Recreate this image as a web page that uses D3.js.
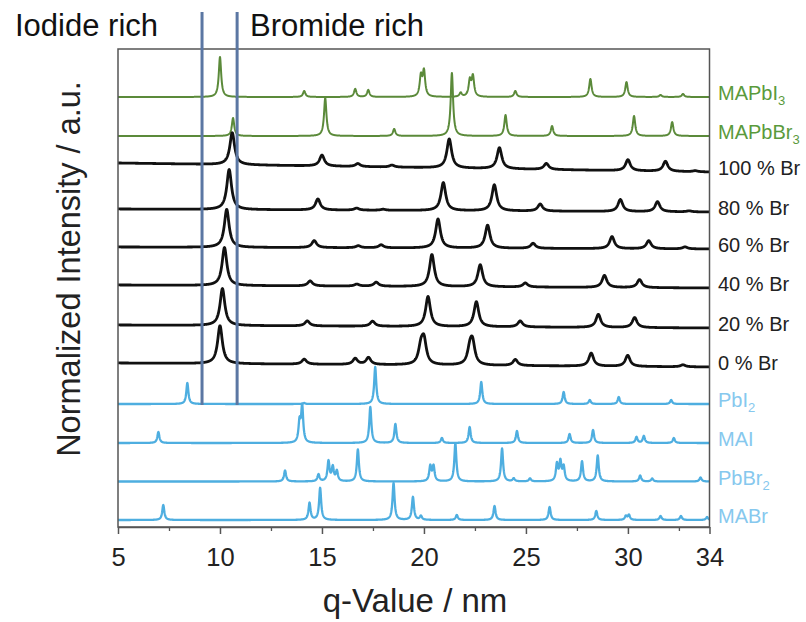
<!DOCTYPE html>
<html><head><meta charset="utf-8">
<script src="https://cdn.jsdelivr.net/npm/d3@7"></script>
<style>body{margin:0;background:#fff} text{font-family:"Liberation Sans",Arial,sans-serif}</style>
</head><body><svg id="c" width="806" height="622"></svg>
<script>
// ---------------- data ----------------
const xTicks = [5, 10, 15, 20, 25, 30, 34];
const xMinorTicks = [7.5, 12.5, 17.5, 22.5, 27.5, 32.5];
const guideLines = [9.12, 10.84];
const regionLabels = ["Iodide rich", "Bromide rich"];

const seriesNames = ["MAPbI3", "MAPbBr3", "100 % Br", "80 % Br", "60 % Br", "40 % Br",
                     "20 % Br", "0 % Br", "PbI2", "MAI", "PbBr2", "MABr"];
const seriesGroup = ["green", "green", "black", "black", "black", "black",
                     "black", "black", "blue", "blue", "blue", "blue"];
// stacking offsets (a.u.) at q = 5 and q = 34
const offsetStart = [430, 391, 364, 318, 280, 242, 202, 164, 123, 84, 45.5, 7];
const offsetEnd   = [430, 391, 355, 315, 278, 239, 199, 160, 123, 84, 45.5, 7];

// peaks: [q, intensity]
const peaksMAPbI3 = [[10.0, 40], [14.13, 6], [16.63, 8], [17.27, 7], [19.85, 20], [20.0, 25],
  [21.8, 4], [22.25, 16], [22.4, 20], [24.48, 6], [28.16, 18], [29.93, 15], [31.6, 2], [32.7, 3]];
const peaksMAPbBr3 = [[10.64, 18], [15.16, 38], [18.54, 7], [21.37, 63], [24.0, 21], [26.28, 10],
  [30.3, 20], [32.17, 14]];
const peaksBr100 = [[10.6, 32], [15.0, 11], [16.76, 3], [18.43, 2], [21.24, 29], [23.7, 21],
  [26.0, 6], [30.0, 11], [31.84, 10], [33.3, 1]];
const peaksBr80 = [[10.45, 40], [14.8, 11], [16.7, 2], [18.0, 1], [20.95, 28], [23.45, 26],
  [25.7, 7], [29.63, 12], [31.45, 10], [33.0, 1]];
const peaksBr60 = [[10.33, 38], [14.62, 7], [16.78, 2], [17.9, 3], [20.69, 29], [23.12, 23],
  [25.35, 5], [29.22, 12], [31.02, 8], [32.8, 2]];
const peaksBr40 = [[10.22, 38], [14.42, 5], [16.71, 2], [17.66, 4], [20.39, 32], [22.76, 22],
  [24.97, 4], [28.85, 12], [30.57, 8]];
const peaksBr20 = [[10.12, 37], [14.28, 5], [17.48, 5], [20.2, 30], [22.57, 25], [24.72, 6],
  [28.55, 13], [30.33, 10]];
const peaksBr0 = [[10.0, 38], [14.13, 5], [16.63, 6], [17.28, 7], [19.85, 16], [20.0, 23],
  [22.25, 14], [22.38, 21], [24.48, 6], [28.2, 13], [29.99, 11], [32.7, 2]];
const peaksPbI2 = [[8.4, 21], [14.13, 1], [17.61, 37], [22.81, 22], [26.85, 12], [28.13, 4],
  [29.55, 7], [32.12, 4]];
const peaksMAI = [[6.98, 11], [13.9, 20], [14.03, 36], [17.37, 36], [18.6, 19], [20.88, 5],
  [22.24, 16], [24.56, 12], [27.14, 9], [28.29, 13], [30.42, 6], [30.78, 7], [32.25, 5]];
const peaksPbBr2 = [[13.19, 11], [14.83, 7], [15.32, 20], [15.53, 14], [15.73, 10], [16.76, 32],
  [20.31, 15], [20.47, 15], [21.54, 38], [23.83, 33], [24.4, 3], [25.2, 3], [26.52, 17],
  [26.69, 19], [26.85, 14], [27.75, 20], [28.52, 26], [30.6, 6], [31.19, 3], [33.56, 4]];
const peaksMABr = [[7.22, 15], [14.39, 17], [14.91, 32], [18.51, 37], [19.46, 23], [19.85, 4],
  [21.61, 5], [23.46, 14], [26.16, 13], [28.45, 9], [29.9, 4], [30.05, 5], [31.6, 4],
  [32.6, 4], [33.88, 3]];
const seriesPeaks = [peaksMAPbI3, peaksMAPbBr3, peaksBr100, peaksBr80, peaksBr60, peaksBr40,
  peaksBr20, peaksBr0, peaksPbI2, peaksMAI, peaksPbBr2, peaksMABr];

// ---------------- styles ----------------
const lineColor = {green: "#5b8a3a", black: "#111111", blue: "#4eaee0"};
const labelColor = {green: "#5a9a3c", black: "#222222", blue: "#86c8ee"};
const lineWidth = {green: 2, black: 2.8, blue: 2.3};
const peakHWHM = {green: 0.07, black: 0.14, blue: 0.06};

// ---------------- chart ----------------
const svg = d3.select("#c");
const L = 118, R = 709.5, T = 49, B = 527;
const x = d3.scaleLinear().domain([5, 34]).range([L, R]);
const y = d3.scaleLinear().domain([0, 480]).range([B, B - 480]);

svg.append("defs").append("clipPath").attr("id", "clip")
  .append("rect").attr("x", L).attr("y", T).attr("width", R - L).attr("height", B - T);

function profile(peaks, w, s, e) {
  let grid = d3.range(5, 34.0001, 0.01).concat(peaks.map(p => p[0]));
  grid.sort((a, b) => a - b);
  return grid.map(q => {
    let v = s + (e - s) * (q - 5) / 29;
    for (const [q0, h] of peaks) v += h * w * w / ((q - q0) * (q - q0) + w * w);
    return [q, v];
  });
}

const line = d3.line().x(d => x(d[0])).y(d => y(d[1]));
const gLines = svg.append("g").attr("clip-path", "url(#clip)");
seriesNames.forEach((name, i) => {
  const g = seriesGroup[i];
  gLines.append("path")
    .attr("d", line(profile(seriesPeaks[i], peakHWHM[g], offsetStart[i], offsetEnd[i])))
    .attr("fill", "none").attr("stroke", lineColor[g]).attr("stroke-width", lineWidth[g])
    .attr("stroke-linejoin", "round");
});

// frame
svg.append("rect").attr("x", L).attr("y", T).attr("width", R - L).attr("height", B - T)
  .attr("fill", "none").attr("stroke", "#555").attr("stroke-width", 1.5);

// x axis
const ax = svg.append("g").attr("transform", `translate(0,${B})`)
  .call(d3.axisBottom(x).tickValues(xTicks).tickSize(7).tickSizeOuter(0).tickPadding(14)
    .tickFormat(d3.format("d")));
ax.select(".domain").attr("stroke", "#555").attr("stroke-width", 1.5);
ax.selectAll(".tick line").attr("stroke", "#555").attr("stroke-width", 1.5);
ax.selectAll(".tick text").attr("font-size", 25.5).attr("fill", "#222")
  .attr("font-family", "'Liberation Sans', Arial, sans-serif");
const axm = svg.append("g").attr("transform", `translate(0,${B})`)
  .call(d3.axisBottom(x).tickValues(xMinorTicks).tickSize(4).tickFormat(""));
axm.select(".domain").remove();
axm.selectAll(".tick line").attr("stroke", "#555").attr("stroke-width", 1.3);

// axis titles
svg.append("text").attr("x", 415).attr("y", 612).attr("text-anchor", "middle")
  .attr("font-size", 33).attr("fill", "#222").text("q-Value / nm");
svg.append("text").attr("transform", "translate(80,269) rotate(-90)").attr("text-anchor", "middle")
  .attr("font-size", 32.5).attr("fill", "#222").text("Normalized Intensity / a.u.");

// series labels
seriesNames.forEach((name, i) => {
  const g = seriesGroup[i];
  const m = name.match(/^([A-Za-z]+?)(\d)$/);
  const t = svg.append("text").attr("x", 718).attr("y", y(offsetEnd[i]) + 3)
    .attr("font-size", 20).attr("fill", labelColor[g]);
  if (m) {
    t.append("tspan").text(m[1]);
    t.append("tspan").attr("font-size", 13).attr("dy", 5).text(m[2]);
  } else t.text(name);
});

// guide lines + region labels
svg.selectAll(".guide").data(guideLines).enter().append("line")
  .attr("x1", d => x(d)).attr("x2", d => x(d)).attr("y1", 12).attr("y2", y(offsetEnd[8]) + 1)
  .attr("stroke", "#5b77a3").attr("stroke-width", 3);
svg.append("text").attr("x", 15).attr("y", 36).attr("font-size", 31).attr("fill", "#111").text(regionLabels[0]);
svg.append("text").attr("x", 250).attr("y", 36).attr("font-size", 31).attr("fill", "#111").text(regionLabels[1]);
</script></body></html>
